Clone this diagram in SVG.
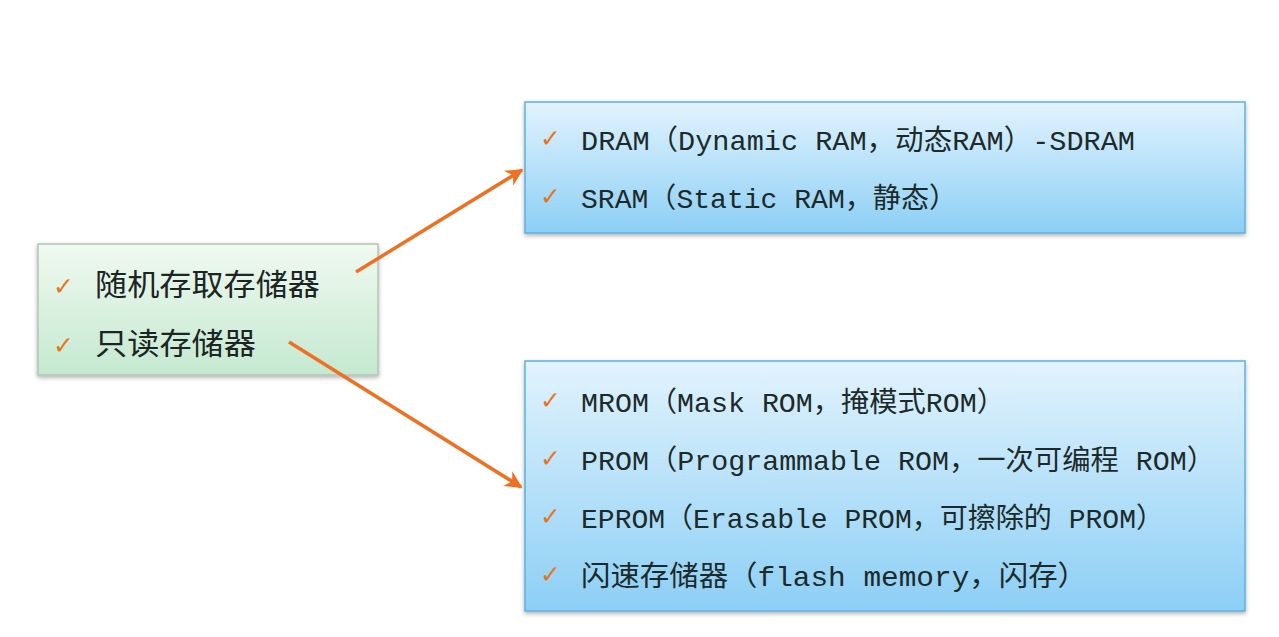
<svg xmlns="http://www.w3.org/2000/svg" width="1279" height="637" viewBox="0 0 1279 637">
<defs>
<linearGradient id="gGreen" x1="0" y1="0" x2="0" y2="1">
<stop offset="0" stop-color="#f0f9f0"/>
<stop offset="1" stop-color="#c4e9d0"/>
</linearGradient>
<linearGradient id="gBlue" x1="0" y1="0" x2="0" y2="1">
<stop offset="0" stop-color="#e2f3fd"/>
<stop offset="1" stop-color="#8ccff5"/>
</linearGradient>
<filter id="sh" x="-5%" y="-5%" width="110%" height="120%">
<feDropShadow dx="0" dy="2" stdDeviation="2" flood-color="#000" flood-opacity="0.3"/>
</filter>
<marker id="ah" viewBox="0 0 10 10" refX="9" refY="5" markerWidth="5" markerHeight="5" orient="auto" markerUnits="strokeWidth">
<path d="M0,0 L10,5 L0,10 L3,5 Z" fill="#f07022"/>
</marker>
</defs>
<style>
.t{font-family:"Liberation Mono","Noto Sans CJK SC",monospace;font-size:28px;fill:#1c2a2a}
.tl{font-family:"Noto Sans CJK SC",sans-serif;font-size:30px;font-weight:400;fill:#1c2424}
.ck{font-family:"DejaVu Sans",sans-serif;font-size:25px;fill:#e8741e}
.conn{stroke:#f07022;stroke-width:3.5;fill:none;marker-end:url(#ah)}
</style>
<rect width="1279" height="637" fill="#ffffff"/>
<g id="node-left">
<rect x="38" y="244" width="340" height="131" fill="url(#gGreen)" stroke="#b4c4b4" stroke-width="1.5" filter="url(#sh)"/>
<text class="ck" x="53" y="295">✓</text>
<text class="tl" x="95" y="295" textLength="225" lengthAdjust="spacingAndGlyphs">随机存取存储器</text>
<text class="ck" x="53" y="354">✓</text>
<text class="tl" x="95" y="354" textLength="161" lengthAdjust="spacingAndGlyphs">只读存储器</text>
</g>
<g id="node-ram">
<rect x="525" y="102" width="720" height="131" fill="url(#gBlue)" stroke="#5eb0e2" stroke-width="1.5" filter="url(#sh)"/>
<text class="ck" x="540" y="147">✓</text>
<text class="t" x="581" y="150" textLength="554" lengthAdjust="spacingAndGlyphs">DRAM（Dynamic RAM，动态RAM）-SDRAM</text>
<text class="ck" x="540" y="205">✓</text>
<text class="t" x="581" y="208" textLength="376" lengthAdjust="spacingAndGlyphs">SRAM（Static RAM，静态）</text>
</g>
<g id="node-rom">
<rect x="525" y="361" width="720" height="250" fill="url(#gBlue)" stroke="#5eb0e2" stroke-width="1.5" filter="url(#sh)"/>
<text class="ck" x="540" y="409">✓</text>
<text class="t" x="581" y="412" textLength="424" lengthAdjust="spacingAndGlyphs">MROM（Mask ROM，掩模式ROM）</text>
<text class="ck" x="540" y="467">✓</text>
<text class="t" x="581" y="470" textLength="634" lengthAdjust="spacingAndGlyphs">PROM（Programmable ROM，一次可编程 ROM）</text>
<text class="ck" x="540" y="525">✓</text>
<text class="t" x="581" y="528" textLength="583" lengthAdjust="spacingAndGlyphs">EPROM（Erasable PROM，可擦除的 PROM）</text>
<text class="ck" x="540" y="583">✓</text>
<text class="t" x="581" y="586" textLength="506" lengthAdjust="spacingAndGlyphs">闪速存储器（flash memory，闪存）</text>
</g>
<g id="connectors">
<line class="conn" x1="356" y1="272" x2="522" y2="170"/>
<line class="conn" x1="289" y1="342" x2="521" y2="487"/>
</g>
</svg>
